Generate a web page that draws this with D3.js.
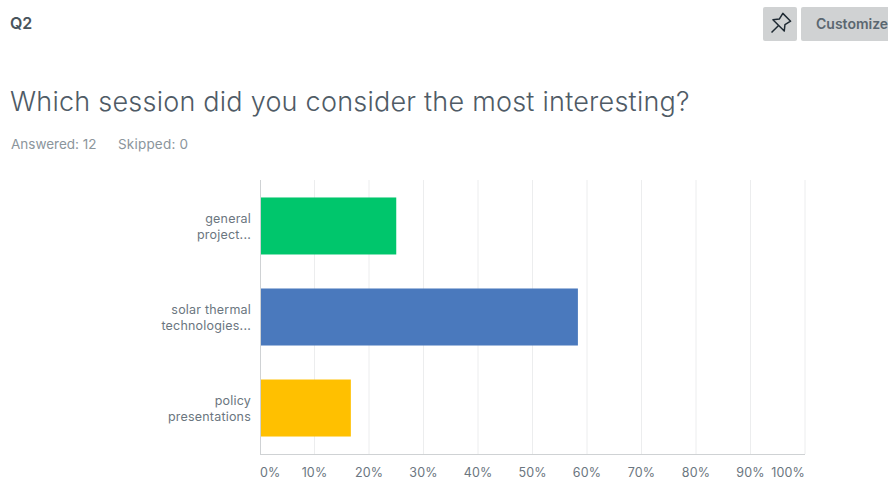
<!DOCTYPE html>
<html>
<head>
<meta charset="utf-8">
<script src="https://cdn.jsdelivr.net/npm/d3@7"></script>
<style>
html,body{margin:0;padding:0;background:#fff;overflow:hidden}
text{font-family:Inter,"Open Sans",sans-serif}
</style>
</head>
<body>
<svg id="chart" width="888" height="480"></svg>
<script>
const questionId = "Q2";
const buttonLabel = "Customize";
const title = "Which session did you consider the most interesting?";
const answered = "Answered: 12";
const skipped = "Skipped: 0";

const categories = ["general", "solar", "policy"];
const categoryLines = [["general", "project..."], ["solar thermal", "technologies..."], ["policy", "presentations"]];
const percentages = [25, 58.33, 16.67];
const barColors = ["#00c66c", "#4a79bd", "#ffc000"];
const tickValues = [0, 10, 20, 30, 40, 50, 60, 70, 80, 90, 100];

const svg = d3.select("#chart");

// Page header
svg.append("text").attr("x", 10).attr("y", 29).attr("font-size", 16).attr("font-weight", 600)
  .attr("fill", "#49545c").text(questionId);

svg.append("rect").attr("x", 763).attr("y", 7).attr("width", 34).attr("height", 34).attr("rx", 2).attr("fill", "#d0d2d3");
svg.append("rect").attr("x", 801).attr("y", 7).attr("width", 100).attr("height", 34).attr("rx", 2).attr("fill", "#d0d2d3");
svg.append("text").attr("x", 816).attr("y", 29).attr("font-size", 14).attr("font-weight", 600)
  .attr("fill", "#5b6770").text(buttonLabel);

// Pin icon on the first button
svg.append("g").attr("transform", "translate(780,24) rotate(45)")
  .append("path")
  .attr("d", "M-5.5,-9.5 H5.5 L4,-3 L8,2 H-8 L-4,-3 Z M0,2 V12")
  .attr("fill", "none").attr("stroke", "#1f2a33").attr("stroke-width", 1.5).attr("stroke-linejoin", "round");

svg.append("text").attr("x", 10).attr("y", 111).attr("font-size", 27).attr("font-weight", 300)
  .attr("letter-spacing", 0.23).attr("fill", "#4f5b66").text(title);
svg.append("text").attr("x", 11).attr("y", 149).attr("font-size", 13.5).attr("fill", "#8b959c").text(answered);
svg.append("text").attr("x", 118).attr("y", 149).attr("font-size", 13.5).attr("letter-spacing", 0.2).attr("fill", "#8b959c").text(skipped);

// Plot scales
const x = d3.scaleLinear().domain([0, 100]).range([260, 805]);
const y = d3.scaleBand().domain(categories).range([180, 454]).paddingInner(0.3736).paddingOuter(0.192);

// Vertical gridlines, then the category and value axis lines
svg.append("g").selectAll("line").data(tickValues.slice(1)).join("line")
  .attr("x1", d => x(d)).attr("x2", d => x(d)).attr("y1", 180).attr("y2", 454)
  .attr("stroke", "#ecedee").attr("stroke-width", 1);

svg.append("g").selectAll("rect").data(categories).join("rect")
  .attr("x", x(0)).attr("y", d => y(d))
  .attr("width", (d, i) => x(percentages[i]) - x(0))
  .attr("height", y.bandwidth())
  .attr("fill", (d, i) => barColors[i]);

svg.append("line").attr("x1", x(0) + 0.5).attr("x2", x(0) + 0.5).attr("y1", 180).attr("y2", 454).attr("stroke", "#cfd2d4").attr("stroke-width", 1);
svg.append("line").attr("x1", x(0)).attr("x2", x(100)).attr("y1", 454.5).attr("y2", 454.5).attr("stroke", "#cfd2d4").attr("stroke-width", 1);

// Wrapped category labels, right aligned against the axis
const labels = svg.append("g").selectAll("text").data(categories).join("text")
  .attr("text-anchor", "end").attr("font-size", 12.5).attr("letter-spacing", 0.2).attr("fill", "#6b7680");
labels.selectAll("tspan").data((d, i) => categoryLines[i]).join("tspan")
  .attr("x", 251)
  .attr("y", function (d, j) {
    const c = d3.select(this.parentNode).datum();
    return y(c) + y.bandwidth() / 2 - 3 + j * 16;
  })
  .text(d => d);

// Percentage labels: the two end labels stay inside the plot width
svg.append("g").selectAll("text").data(tickValues).join("text")
  .attr("x", d => x(d))
  .attr("y", 477)
  .attr("text-anchor", d => d === 0 ? "start" : d === 100 ? "end" : "middle")
  .attr("font-size", 12.5).attr("letter-spacing", 0.15).attr("fill", "#6b7680")
  .text(d => d + "%");
</script>
</body>
</html>
